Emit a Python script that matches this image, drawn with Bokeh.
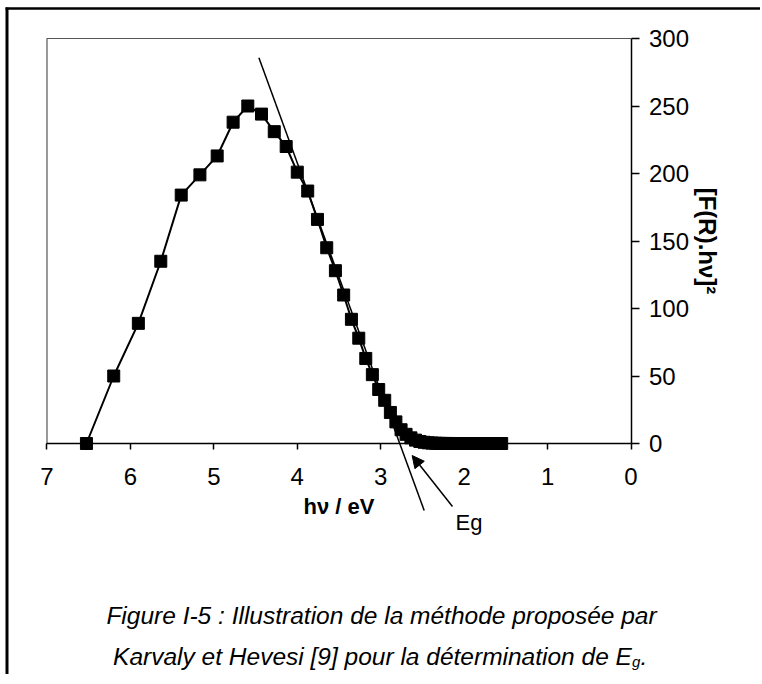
from bokeh.plotting import figure
from bokeh.models import Range1d, FixedTicker, Label, Arrow, NormalHead
from bokeh.embed import file_html
from bokeh.resources import INLINE

# ---- data ----
photon_energy_ev = [6.527, 6.200, 5.905, 5.636, 5.391, 5.167, 4.960, 4.769, 4.593, 4.429,
                    4.276, 4.133, 4.000, 3.875, 3.758, 3.647, 3.543, 3.444, 3.351, 3.263,
                    3.179, 3.100, 3.024, 2.952, 2.884, 2.818, 2.756, 2.696, 2.638, 2.583,
                    2.531, 2.480, 2.431, 2.385, 2.340, 2.296, 2.255, 2.214, 2.175, 2.138,
                    2.101, 2.067, 2.033, 2.000, 1.968, 1.938, 1.908, 1.879, 1.851, 1.824,
                    1.797, 1.771, 1.746, 1.722, 1.699, 1.676, 1.653, 1.632, 1.610, 1.590,
                    1.569, 1.550]
f_r_hv_squared = [0, 50, 89, 135, 184, 199, 213, 238, 250, 244,
                  231, 220, 201, 187, 166, 145, 128, 110, 92, 78,
                  63, 51, 40, 32, 23, 16, 10.2, 6.8, 4.2, 2.5,
                  1.5, 0.9, 0.5, 0.3, 0.2, 0.1, 0.05, 0.03, 0.02, 0.01,
                  0, 0, 0, 0, 0, 0, 0, 0, 0, 0,
                  0, 0, 0, 0, 0, 0, 0, 0, 0, 0,
                  0, 0]
x_ticks = [7, 6, 5, 4, 3, 2, 1, 0]
y_ticks = [0, 50, 100, 150, 200, 250, 300]
tangent_ev = [4.460, 2.479]
tangent_val = [285.7, -49.6]
eg_arrow_ev = [2.140, 2.623]     # tail, head
eg_arrow_val = [-46.7, -8.9]

FONT = "Liberation Sans"

# The frame fills the whole canvas; axes sit at fixed data locations.
W, H = 760, 674
PX_PER_EV = 83.43
PX_PER_UNIT = 1.35
X0_PX, Y0_PX = 630.5, 443.0   # page position of (0 eV, 0)


def ev_at(px):
    return (X0_PX - px) / PX_PER_EV


def val_at(py):
    return (Y0_PX - py) / PX_PER_UNIT


x_lo, x_hi = ev_at(0), ev_at(W)
y_lo, y_hi = val_at(H), val_at(0)

p = figure(width=W, height=H,
           x_range=Range1d(x_lo, x_hi),
           y_range=Range1d(y_lo, y_hi),
           y_axis_location="right",
           output_backend="svg", toolbar_location=None,
           min_border_left=0, min_border_top=0,
           min_border_right=0, min_border_bottom=0)
p.title.text = ""
p.outline_line_color = None
p.xgrid.visible = False
p.ygrid.visible = False
p.background_fill_color = "white"
p.border_fill_color = "white"

# x axis (at y = 0)
xa = p.xaxis[0]
xa.fixed_location = y_ticks[0]
xa.bounds = (x_ticks[-1], x_ticks[0])
xa.ticker = FixedTicker(ticks=x_ticks)
xa.axis_line_color = "black"
xa.axis_line_width = 1.5
xa.major_tick_in = 0
xa.major_tick_out = 6
xa.major_tick_line_color = "black"
xa.major_tick_line_width = 1.5
xa.minor_tick_line_color = None
xa.major_label_text_font = FONT
xa.major_label_text_font_size = "24px"
xa.major_label_text_color = "black"
xa.major_label_standoff = 18
xa.axis_label = "hν / eV"
xa.axis_label_text_font = FONT
xa.axis_label_text_font_style = "bold"
xa.axis_label_text_font_size = "22px"
xa.axis_label_text_color = "black"
xa.axis_label_standoff = 6

# y axis (right side, at x = 0)
ya = p.yaxis[0]
ya.fixed_location = x_ticks[-1]
ya.bounds = (y_ticks[0], y_ticks[-1])
ya.ticker = FixedTicker(ticks=y_ticks)
ya.axis_line_color = "black"
ya.axis_line_width = 1.5
ya.major_tick_in = 0
ya.major_tick_out = 8
ya.major_tick_line_color = "black"
ya.major_tick_line_width = 1.5
ya.minor_tick_line_color = None
ya.major_label_text_font = FONT
ya.major_label_text_font_size = "24px"
ya.major_label_text_color = "black"
ya.major_label_standoff = 10
ya.axis_label = "[F(R).hν]²"
ya.axis_label_text_font = FONT
ya.axis_label_text_font_style = "bold"
ya.axis_label_text_font_size = "24px"
ya.axis_label_text_color = "black"
ya.axis_label_standoff = 1

# plot box (left and top sides)
p.line([x_ticks[0], x_ticks[0], x_ticks[-1]], [y_ticks[0], y_ticks[-1], y_ticks[-1]],
       line_color="#555555", line_width=1.2)

# outer figure frame (left and top sides)
p.line([ev_at(6.5), ev_at(6.5)], [y_lo, val_at(7.0)], line_color="black", line_width=3)
p.line([ev_at(5.0), x_hi], [val_at(8.0), val_at(8.0)], line_color="black", line_width=2.5)

# data
p.line(photon_energy_ev, f_r_hv_squared, line_color="black", line_width=2)
p.scatter(photon_energy_ev, f_r_hv_squared, marker="square", size=12,
          fill_color="black", line_color="black")

# tangent line
p.line(tangent_ev, tangent_val, line_color="black", line_width=1.5)
# Eg arrow
p.add_layout(Arrow(end=NormalHead(size=12, fill_color="black", line_color="black"),
                   x_start=eg_arrow_ev[0], y_start=eg_arrow_val[0],
                   x_end=eg_arrow_ev[1], y_end=eg_arrow_val[1],
                   line_color="black", line_width=1.5))
p.add_layout(Label(x=ev_at(455), y=val_at(522), text="Eg", text_font=FONT,
                   text_font_size="22px", text_baseline="middle", text_align="left",
                   text_color="black"))

# caption
cap_size = 24.5
p.add_layout(Label(x=ev_at(381), y=val_at(615),
                   text="Figure I-5 : Illustration de la méthode proposée par",
                   text_font=FONT, text_font_style="italic", text_font_size=f"{cap_size}px",
                   text_align="center", text_baseline="middle", text_color="black"))
main_w = 21.176 * cap_size
line2_x = ev_at(380 - (main_w + 16) / 2)
line2_y = val_at(656)
p.add_layout(Label(x=line2_x, y=line2_y, text="Karvaly et Hevesi [9] pour la détermination de E",
                   text_font=FONT, text_font_style="italic", text_font_size=f"{cap_size}px",
                   text_align="left", text_baseline="middle", text_color="black"))
p.add_layout(Label(x=line2_x, y=line2_y, text="g", x_offset=main_w, y_offset=-5,
                   text_font=FONT, text_font_style="italic", text_font_size="15px",
                   text_align="left", text_baseline="middle", text_color="black"))
p.add_layout(Label(x=line2_x, y=line2_y, text=".", x_offset=main_w + 8.5,
                   text_font=FONT, text_font_style="italic", text_font_size=f"{cap_size}px",
                   text_align="left", text_baseline="middle", text_color="black"))

open("out.html", "w").write(file_html(p, INLINE))
